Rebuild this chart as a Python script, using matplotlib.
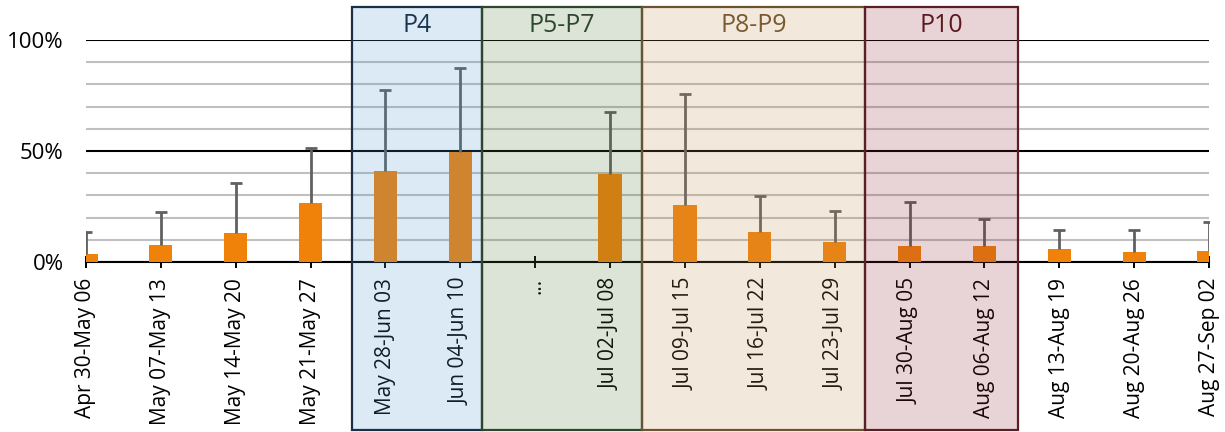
import numpy as np
import matplotlib.pyplot as plt
from matplotlib.patches import Rectangle
from matplotlib.ticker import FuncFormatter, MultipleLocator

plt.rcParams['font.family'] = ['Open Sans', 'DejaVu Sans']

weeks = ["Apr 30-May 06", "May 07-May 13", "May 14-May 20", "May 21-May 27",
         "May 28-Jun 03", "Jun 04-Jun 10", "...", "Jul 02-Jul 08",
         "Jul 09-Jul 15", "Jul 16-Jul 22", "Jul 23-Jul 29", "Jul 30-Aug 05",
         "Aug 06-Aug 12", "Aug 13-Aug 19", "Aug 20-Aug 26", "Aug 27-Sep 02"]
rate = [3.6, 7.7, 12.9, 26.4, 41.1, 49.7, np.nan, 39.6,
        25.5, 13.4, 9.0, 7.3, 7.1, 6.0, 4.5, 5.0]
upper = [13.4, 22.4, 35.4, 51.2, 77.6, 87.2, np.nan, 67.7,
         75.5, 29.9, 22.8, 26.9, 19.2, 14.6, 14.6, 18.2]

# phase bands: label, start, end (in category units), tint, edge, text colour
phases = ["P4", "P5-P7", "P8-P9", "P10"]
phase_start = [3.55, 5.29, 7.43, 10.40]
phase_end = [5.29, 7.43, 10.40, 12.45]
phase_tint = [(75, 150, 205), (80, 120, 60), (190, 145, 80), (140, 35, 50)]
phase_edge = ["#1b2f45", "#2c472c", "#6b5230", "#5a1e26"]
phase_text = ["#1b3550", "#2c472c", "#7a5a30", "#5a1a20"]

x = np.arange(len(weeks))
val = np.array(rate) / 100
up = np.array(upper) / 100

fig = plt.figure(figsize=(12.25, 4.32), dpi=100)
ax = fig.add_axes([86/1225, 1-262/432, (1209-86)/1225, 222/432])

ax.bar(x, val, width=0.31, color="#f0820a", zorder=3)
eb = ax.errorbar(x, val, yerr=[np.zeros_like(val), up - val], fmt="none",
                 ecolor="#606060", elinewidth=2, capsize=4, capthick=2, zorder=3)
eb[1][0].set_visible(False)

ax.set_xlim(0, len(weeks) - 1)
ax.set_ylim(0, 1)
ax.yaxis.set_major_locator(MultipleLocator(0.5))
ax.yaxis.set_minor_locator(MultipleLocator(0.1))
ax.yaxis.set_major_formatter(FuncFormatter(lambda v, p: f"{v*100:.0f}%"))
ax.grid(axis="y", which="minor", color="#c0c0c0", lw=1.5, zorder=1)
ax.grid(axis="y", which="major", color="black", lw=1.5, zorder=1)
ax.set_axisbelow(True)
ax.tick_params(axis="y", which="both", length=0, labelsize=16, pad=16)
ax.set_xticks(x)
ax.set_xticklabels(weeks, rotation=90, fontsize=15)
ax.tick_params(axis="x", direction="inout", length=9, width=1.4, pad=7)
for s in ["top", "right", "left"]:
    ax.spines[s].set_visible(False)
ax.spines["bottom"].set_linewidth(1.5)

for name, a, b, tint, ec, tc in zip(phases, phase_start, phase_end, phase_tint, phase_edge, phase_text):
    fc = tuple(c / 255 for c in tint) + (0.2,)
    r = Rectangle((a, -0.757), b - a, 1.906, facecolor=fc, edgecolor=ec,
                  lw=1.6, clip_on=False, zorder=4)
    ax.add_patch(r)
    ax.text((a + b) / 2, 1.065, name, ha="center", va="center", fontsize=18,
            color=tc, zorder=5)

fig.savefig("out.png", dpi=100)
